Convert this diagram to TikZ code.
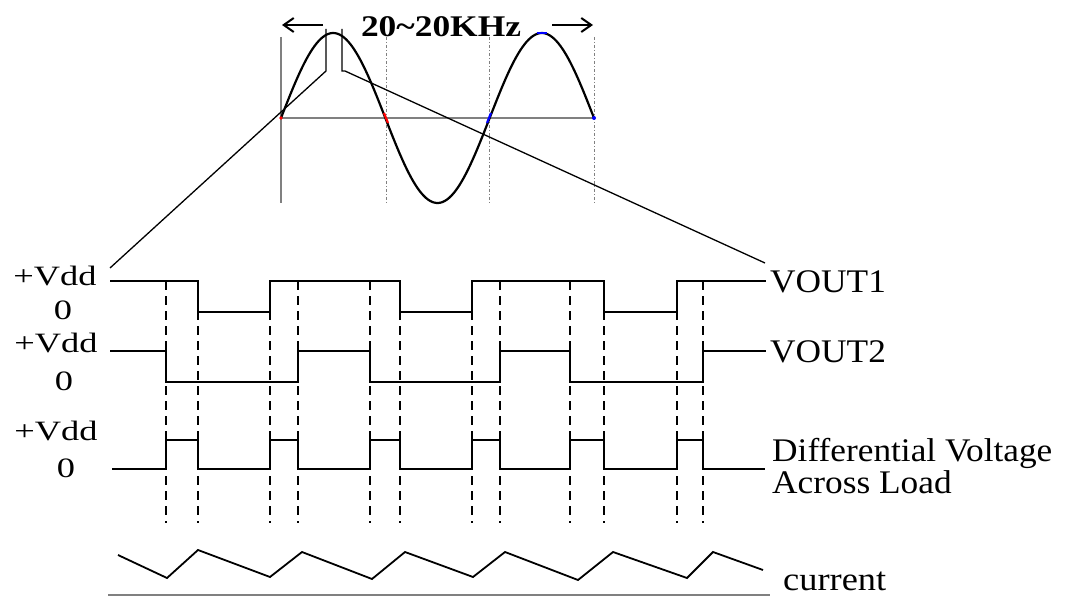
\documentclass[tikz,border=0pt]{standalone}
\usepackage{fontspec}
\setmainfont{Liberation Serif}
\usetikzlibrary{arrows.meta}

\begin{document}
\begin{tikzpicture}[x=1pt, y=-1pt,
    wave/.style={line width=1.8pt, line join=miter},
    guide/.style={line width=1.6pt, dash pattern=on 9pt off 6pt},
    lbl/.style={font=\fontsize{28}{30}\selectfont, xscale=1.3, anchor=base, inner sep=0pt},
    sig/.style={font=\fontsize{33}{30}\selectfont, xscale=1.07, anchor=base west, inner sep=0pt, align=left}]
  \useasboundingbox (0,0) rectangle (1066,596);

  % one and a half periods of the input
  \draw[gray, line width=1.2pt] (281,37) -- (281,203);
  \draw[gray, line width=1.2pt] (281,118) -- (594,118);
  \foreach \x in {386,489,594}
    \draw[gray, line width=1pt, dash pattern=on 3pt off 2pt on 1pt off 2pt] (\x,37) -- (\x,203);
  \draw[line width=2.2pt, domain=0:313, samples=150, variable=\t] plot ({281+\t},{118-85*sin(\t/208.67*360)});
  \fill[red] (281,118) circle (1.8pt);
  \draw[red, line width=2.2pt] (384,113) -- (388,123);
  \draw[blue, line width=2.2pt] (487,123) -- (491,113);
  \draw[blue, line width=2.2pt] (537,33) -- (547,33);
  \fill[blue] (594,118) circle (2pt);

  \node[font=\fontsize{30}{30}\selectfont\bfseries, xscale=1.18, anchor=base, inner sep=0pt] (band) at (441,37) {20\textasciitilde 20KHz};
  \coordinate (bandl) at (282,25);
  \coordinate (bandr) at (593,25);
  \draw[-{Straight Barb[length=10pt,width=14pt]}, line width=2pt] (323,25) -- (bandl);
  \draw[-{Straight Barb[length=10pt,width=14pt]}, line width=2pt] (552,25) -- (bandr);

  % zoom lines
  \coordinate (zoomL) at (110,268);
  \coordinate (zoomR) at (765,263);
  \draw[line width=1.3pt] (326,29) -- (326,71) -- (zoomL);
  \draw[line width=1.3pt] (342,29) -- (342,71) -- (345,71) -- (zoomR);

  % switching edges
  \foreach \x in {166,198,270,298,370,400,472,500,570,604,677,703}
    \draw[guide] (\x,281) -- (\x,523);

  % outputs
  \draw[wave] (110,281) -- (198,281) -- (198,312) -- (270,312) -- (270,281) -- (400,281) -- (400,312) -- (472,312) -- (472,281) -- (604,281) -- (604,312) -- (677,312) -- (677,281) -- (766,281);
  \draw[wave] (110,351) -- (166,351) -- (166,382) -- (298,382) -- (298,351) -- (370,351) -- (370,382) -- (500,382) -- (500,351) -- (570,351) -- (570,382) -- (703,382) -- (703,351) -- (766,351);
  \draw[wave] (112,469) -- (166,469) -- (166,440) -- (198,440) -- (198,469) -- (270,469) -- (270,440) -- (298,440) -- (298,469) -- (370,469) -- (370,440) -- (400,440) -- (400,469) -- (472,469) -- (472,440) -- (500,440) -- (500,469) -- (570,469) -- (570,440) -- (604,440) -- (604,469) -- (677,469) -- (677,440) -- (703,440) -- (703,469) -- (765,469);

  % load current
  \draw[wave] (118,555) -- (167,578) -- (198,550) -- (270,577) -- (302,552) -- (372,579) -- (405,552) -- (473,577) -- (505,552) -- (578,580) -- (613,552) -- (687,578) -- (713,552) -- (763,570);
  \draw[gray, line width=1.5pt] (108,595) -- (770,595);

  \node[lbl] (vdd1) at (55,285) {+Vdd};
  \node[lbl] (zero1) at (63,319) {0};
  \node[lbl] (vdd2) at (56,352) {+Vdd};
  \node[lbl] (zero2) at (64,390) {0};
  \node[lbl] (vdd3) at (56,440) {+Vdd};
  \node[lbl] (zero3) at (66,477) {0};

  \node[sig] (vout1) at (770,292) {VOUT1};
  \node[sig] (vout2) at (770,362) {VOUT2};
  \node[sig] (diff) at (772,493) {Differential Voltage\\Across Load};
  \node[sig, xscale=1.03] (cur) at (783,590) {current};
\end{tikzpicture}
\end{document}
